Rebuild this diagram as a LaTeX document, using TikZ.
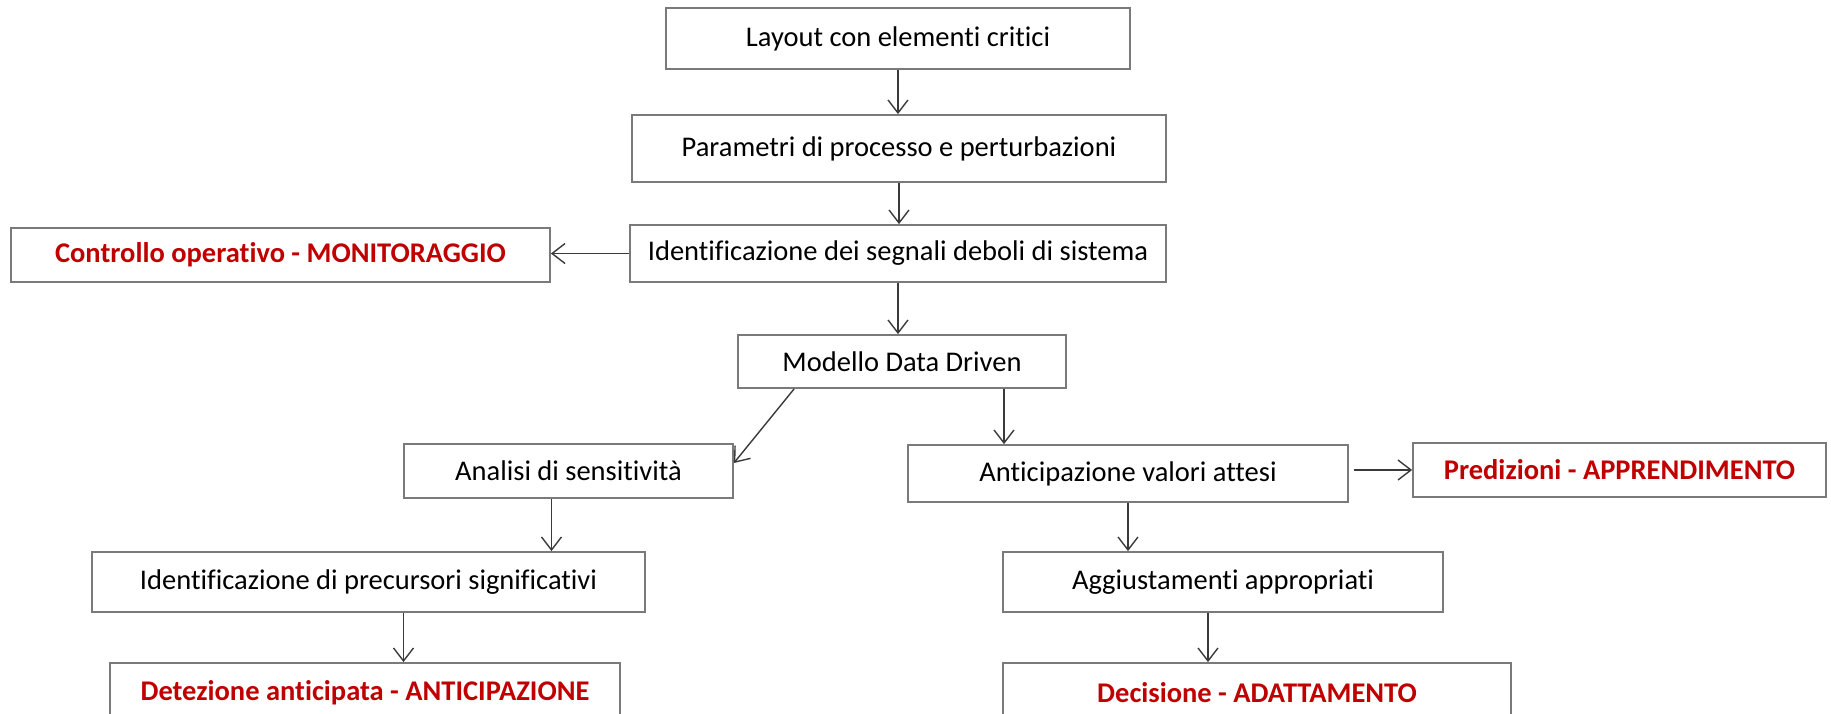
\documentclass[tikz,border=0pt]{standalone}
\usepackage{fontspec}
\setmainfont{Carlito}[Ligatures=NoCommon]
\usepackage{tikz}
\usetikzlibrary{arrows.meta}
\definecolor{boxgray}{HTML}{7A7A7A}
\definecolor{arrgray}{HTML}{3A3A3A}
\definecolor{redtxt}{HTML}{C00000}

\begin{document}
\begin{tikzpicture}[x=1pt,y=-1pt,
    box/.style={draw=boxgray, line width=1.8pt, fill=white, inner sep=0pt,
        font=\fontsize{28.5}{34}\selectfont},
    keybox/.style={box, text=redtxt, font=\fontsize{28.5}{34}\selectfont\bfseries},
    arr/.style={draw=arrgray, line width=1.4pt, -{Straight Barb[length=13pt,width=20pt,line width=1.4pt]}}]
        \useasboundingbox (0,0) rectangle (1831,713);

        % Main column
        \node[box, minimum width=464pt, minimum height=61pt] (lay) at (898,38.5) {Layout con elementi critici};
        \node[box, minimum width=534pt, minimum height=67pt] (par) at (899,148.5) {Parametri di processo e perturbazioni};
        \node[box, minimum width=536pt, minimum height=57pt] (ide) at (898,253.5) {Identificazione dei segnali deboli di sistema};
        \node[keybox, minimum width=539pt, minimum height=54pt] (con) at (280.5,255) {Controllo operativo - MONITORAGGIO};
        \node[box, minimum width=328pt, minimum height=53pt] (mod) at (902,361.5) {Modello Data Driven};

        % Left branch
        \node[box, minimum width=329pt, minimum height=54pt] (ana) at (568.5,471) {Analisi di sensitivit\`a};
        \node[box, minimum width=553pt, minimum height=60pt] (prc) at (368.5,582) {Identificazione di precursori significativi};
        \node[keybox, minimum width=510pt, minimum height=60pt] (det) at (365,693) {Detezione anticipata - ANTICIPAZIONE};

        % Right branch
        \node[box, minimum width=440pt, minimum height=57pt] (ant) at (1128,473.5) {Anticipazione valori attesi};
        \node[keybox, minimum width=413pt, minimum height=54pt] (pre) at (1619.5,470) {Predizioni - APPRENDIMENTO};
        \node[box, minimum width=440pt, minimum height=60pt] (agg) at (1223,582) {Aggiustamenti appropriati};
        \node[keybox, minimum width=508pt, minimum height=60pt] (dec) at (1257,693) {Decisione - ADATTAMENTO};

        % Arrows
        \draw[arr] (lay.south) -- (lay.south |- par.north);
        \draw[arr] (par.south) -- (par.south |- ide.north);
        \draw[arr] (ide.west) -- (ide.west -| con.east);
        \draw[arr] (ide.south) -- (ide.south |- mod.north);
        \draw[arr] ([xshift=57pt]mod.south west) -- ([yshift=8pt]ana.east);
        \draw[arr] ([xshift=102pt]mod.south) -- ([xshift=102pt]mod.south |- ant.north);
        \draw[arr] ([xshift=5pt]ant.east |- pre.west) -- (pre.west);
        \draw[arr] ([xshift=-17pt]ana.south) -- ([xshift=-17pt]ana.south |- prc.north);
        \draw[arr] (ant.south) -- (ant.south |- agg.north);
        \draw[arr] ([xshift=35pt]prc.south) -- ([xshift=35pt]prc.south |- det.north);
        \draw[arr] ([xshift=-15pt]agg.south) -- ([xshift=-15pt]agg.south |- dec.north);
\end{tikzpicture}
\end{document}
